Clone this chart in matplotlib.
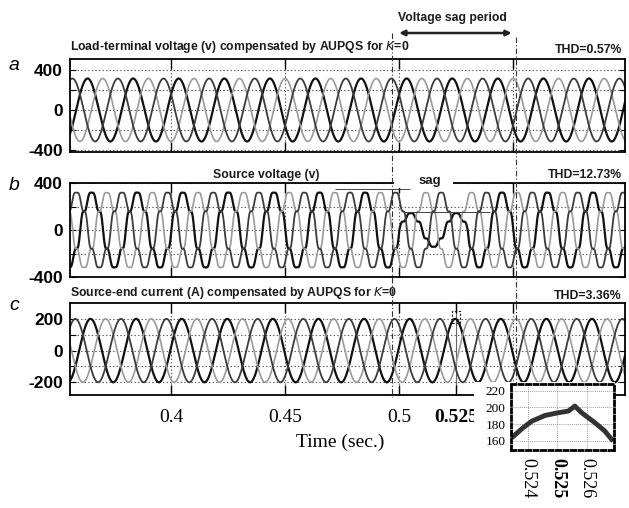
import numpy as np
import matplotlib
matplotlib.use("Agg")
import matplotlib.pyplot as plt
from matplotlib.patches import Rectangle, FancyArrowPatch
from matplotlib.lines import Line2D
from matplotlib.ticker import FixedLocator, FixedFormatter

# ---------------- data ----------------
T_START, T_END = 0.3555, 0.599
FREQ = 50.0                                   # Hz
PHASE_SHIFT_DEG = [0.0, -120.0, 120.0]        # a, b, c
PHASE_COLORS = ["#111111", "#9a9a9a", "#3c3c3c"]
PHASE_WIDTHS = [1.6, 1.2, 1.3]

# load-terminal voltage (compensated)
LOAD_V_PEAK = 315.0
LOAD_V_PEAK_TIME = 0.3632                    # time of a phase-a crest

# source voltage: fundamental plus 5th / 7th harmonics
SRC_V_PEAK = 311.0
SRC_V_PEAK_TIME = 0.3650
SRC_HARMONIC_ORDER = [5, 7]
SRC_HARMONIC_REL = [0.10, -0.078]
SAG_PHASE = 0
SAG_START, SAG_END = 0.500, 0.530
SAG_DEPTH = 0.45
PRESAG_LEVEL, SAG_LEVEL = 349.0, 153.0

# source-end current (compensated)
SRC_I_PEAK = 200.0
SRC_I_PEAK_TIME = 0.3645

# zoomed view of the phase-a current crest
INSET_T = [0.52345, 0.52379, 0.52413, 0.52458, 0.52503, 0.52537, 0.52559,
           0.52582, 0.52627, 0.52661, 0.52689]
INSET_I = [163.7, 174.5, 183.6, 190.4, 193.6, 195.6, 201.6,
           193.6, 181.7, 171.6, 159.6]

THD = ["0.57%", "12.73%", "3.36%"]
X_TICKS = [0.4, 0.45, 0.5, 0.525, 0.55]
X_TICK_LABELS = ["0.4", "0.45", "0.5", "0.525", ""]
SAG_MARK_T = [0.4969, 0.5513]

# ---------------- figure ----------------
W, H = 629, 508
fig = plt.figure(figsize=(W / 100, H / 100), dpi=100)
SANS = "Liberation Sans"
SERIF = "Liberation Serif"


def box(l, t, r, b):
    return [l / W, 1 - b / H, (r - l) / W, (b - t) / H]


def fxy(px, py):
    return px / W, 1 - py / H


t = np.linspace(T_START, T_END, 6000)
w = 2 * np.pi * FREQ


def angle(peak_time, k):
    return w * (t - peak_time) + np.deg2rad(PHASE_SHIFT_DEG[k])


ax_a = fig.add_axes(box(70, 59, 625, 152))
ax_b = fig.add_axes(box(70, 183, 625, 277))
ax_c = fig.add_axes(box(70, 303, 625, 395))


def style_axis(ax, ylim, grid_y, label_y):
    ax.set_xlim(T_START, T_END)
    ax.set_ylim(*ylim)
    for y in grid_y:
        ax.axhline(y, color="#555555", lw=0.8, ls=(0, (1.2, 2)), zorder=1)
    for x in X_TICKS[:3] + [X_TICKS[4]]:
        ax.axvline(x, color="#555555", lw=0.8, ls=(0, (1.2, 2)), zorder=1)
    ax.yaxis.set_major_locator(FixedLocator(grid_y))
    ax.yaxis.set_major_formatter(FixedFormatter(
        [str(int(v)) if v in label_y else "" for v in grid_y]))
    ax.tick_params(axis="y", direction="in", left=True, right=True,
                   length=4, width=0.8, pad=5, labelsize=12.5)
    ax.tick_params(axis="x", direction="in", top=True, bottom=True,
                   length=7, width=1.0)
    for lab in ax.get_yticklabels():
        lab.set_fontfamily(SANS)
        lab.set_fontweight("bold")
    for s in ax.spines.values():
        s.set_linewidth(1.3)


# panel a: load-terminal voltage
for k in range(3):
    v = LOAD_V_PEAK * np.cos(angle(LOAD_V_PEAK_TIME, k))
    ax_a.plot(t, v, color=PHASE_COLORS[k], lw=PHASE_WIDTHS[k], zorder=2)
style_axis(ax_a, (-420, 510), [-400, -200, 0, 200, 400], [-400, 0, 400])

# panel b: source voltage with sag on one phase
for k in range(3):
    th = angle(SRC_V_PEAK_TIME, k)
    v = np.cos(th)
    for n, r in zip(SRC_HARMONIC_ORDER, SRC_HARMONIC_REL):
        v = v + r * np.cos(n * th)
    v = SRC_V_PEAK * v
    if k == SAG_PHASE:
        v = np.where((t >= SAG_START) & (t < SAG_END), SAG_DEPTH * v, v)
    ax_b.plot(t, v, color=PHASE_COLORS[k], lw=PHASE_WIDTHS[k], zorder=2)
style_axis(ax_b, (-400, 400), [-400, -200, 0, 200, 400], [-400, 0, 400])
ax_b.hlines(PRESAG_LEVEL, 0.4719, 0.5048, color="#444444", lw=0.7, zorder=3)
ax_b.hlines(SAG_LEVEL, 0.5018, 0.5399, color="#444444", lw=0.7, zorder=3)

# panel c: source-end current
for k in range(3):
    i = SRC_I_PEAK * np.cos(angle(SRC_I_PEAK_TIME, k))
    ax_c.plot(t, i, color=PHASE_COLORS[k], lw=PHASE_WIDTHS[k], zorder=2)
style_axis(ax_c, (-280, 300), [-200, -100, 0, 100, 200], [-200, 0, 200])
ax_c.axvline(0.525, color="#666666", lw=0.8, zorder=1)
ax_c.add_patch(Rectangle((0.5230, 172), 0.0035, 78, fill=False,
                         ls=(0, (2, 1.5)), lw=0.8, ec="#222222", zorder=4))

for ax in (ax_a, ax_b):
    ax.set_xticks(X_TICKS[:3] + [X_TICKS[4]])
    ax.set_xticklabels([])
ax_c.set_xticks(X_TICKS)
ax_c.set_xticklabels(X_TICK_LABELS, fontfamily=SERIF, fontsize=14)
ax_c.tick_params(axis="x", pad=10)
ax_c.get_xticklabels()[3].set_fontweight("bold")
fig.text(*fxy(340, 442), "Time (sec.)", family=SERIF, fontsize=14,
         ha="center", va="center")

# panel titles and labels
title_kw = dict(family=SANS, fontsize=8.8, fontweight="bold", va="center",
                color="#1a1a1a")
fig.text(*fxy(70, 47), "Load-terminal voltage (v) compensated by AUPQS for $K$=0",
         ha="left", **title_kw)
fig.text(*fxy(266, 175), "Source voltage (v)", ha="center", **title_kw)
fig.text(*fxy(70, 293), "Source-end current (A) compensated by AUPQS for $K$=0",
         ha="left", **title_kw)
for yy, thd in zip([50, 175, 296], THD):
    fig.text(*fxy(622, yy), "THD=" + thd, ha="right", **title_kw)

# gap in the top frame of panel b for the "sag" label
fig.add_artist(Rectangle(fxy(394, 188), (453 - 394) / W, 12 / H,
                         transform=fig.transFigure, fc="white", ec="none",
                         zorder=4))
fig.text(*fxy(430, 181), "sag", ha="center", va="center", family=SANS,
         fontsize=9.5, fontweight="bold", color="#1a1a1a", zorder=5)
for lab, yy in zip("abc", [66, 186, 305]):
    fig.text(*fxy(14, yy), lab, family=SANS, style="italic", fontsize=14,
             ha="center", va="center")

# sag period markers
for tm, y_top, y_bot in zip(SAG_MARK_T, [33, 37], [397, 383]):
    xp = ax_c.transData.transform((tm, 0))[0]
    fig.add_artist(Line2D([xp / W, xp / W], [1 - y_top / H, 1 - y_bot / H],
                          transform=fig.transFigure, color="#333333", lw=0.8,
                          ls=(0, (5, 2, 1, 2)), zorder=6))
x0 = ax_c.transData.transform((SAG_START, 0))[0]
x1 = ax_c.transData.transform((0.5505, 0))[0]
fig.add_artist(FancyArrowPatch(fxy(x0 - 3, 33), fxy(x1, 33),
                               transform=fig.transFigure,
                               arrowstyle="<|-|>", mutation_scale=8, lw=1.8,
                               color="#222222", zorder=6))
fig.text(*fxy(452, 18), "Voltage sag period", family=SANS, fontsize=8.8,
         fontweight="bold", color="#1a1a1a", ha="center", va="center")

# white patch behind the zoomed view
fig.add_artist(Rectangle(fxy(474, 508), (615 - 474) / W, (508 - 382) / H,
                         transform=fig.transFigure, fc="white", ec="none",
                         zorder=2))
ax_in = fig.add_axes(box(511, 384, 614, 450), zorder=3)
ax_in.plot(INSET_T, INSET_I, color="#333333", lw=3.5, solid_capstyle="butt")
ax_in.set_xlim(0.52342, 0.52692)
ax_in.set_ylim(149, 228)
for x in [0.524, 0.525, 0.526]:
    ax_in.axvline(x, color="#777777", lw=0.6, ls=(0, (1, 1.5)), zorder=0)
for y in [160, 180, 200, 220]:
    ax_in.axhline(y, color="#777777", lw=0.6, ls=(0, (1, 1.5)), zorder=0)
ax_in.set_xticks([0.524, 0.525, 0.526])
ax_in.set_xticklabels(["0.524", "0.525", "0.526"], rotation=-90,
                      fontfamily=SERIF, fontsize=13)
ax_in.get_xticklabels()[1].set_fontweight("bold")
ax_in.set_yticks([160, 180, 200, 220])
ax_in.set_yticklabels(["160", "180", "200", "220"], fontfamily=SERIF,
                      fontsize=9.5)
ax_in.tick_params(length=0, pad=4)
ax_in.tick_params(axis="x", pad=6)
for s in ax_in.spines.values():
    s.set_linestyle((0, (1.5, 1.2)))
    s.set_linewidth(2.0)

fig.savefig("out.png", dpi=100)
